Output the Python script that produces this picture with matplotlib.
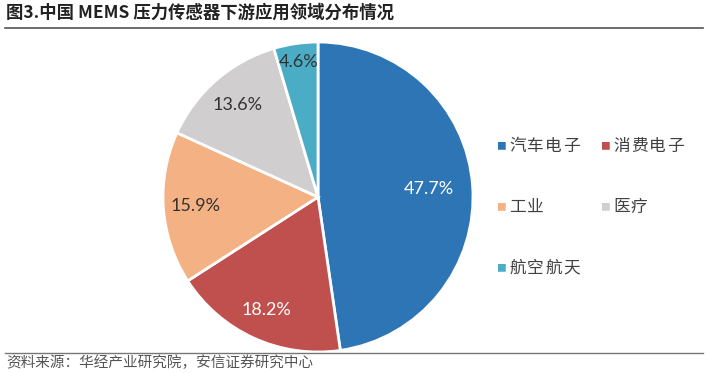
import matplotlib.pyplot as plt
import numpy as np
from matplotlib.lines import Line2D

plt.rcParams['font.family'] = ['Noto Sans CJK SC', 'DejaVu Sans']

categories = ['汽车电子', '消费电子', '工业', '医疗', '航空航天']
shares = [47.7, 18.2, 15.9, 13.6, 4.6]
colors = ['#2E75B6', '#C0504D', '#F4B183', '#D0CECE', '#4BACC6']
label_colors = ['white', 'white', '#333333', '#333333', '#333333']
label_radius = [0.72, 0.80, 0.79, 0.79, 0.88]

W, H = 708, 373
fig = plt.figure(figsize=(W / 100, H / 100), dpi=100)

# 饼图 (中心约 (318,197)，半径约 155px)
cx, cy, r = 318, 197, 155
ax = fig.add_axes([(cx - r) / W, (H - cy - r) / H, 2 * r / W, 2 * r / H])
wedges, texts = ax.pie(
    shares, colors=colors, startangle=90, counterclock=False, radius=1,
    wedgeprops=dict(edgecolor='white', linewidth=2))
ax.set_xlim(-1, 1)
ax.set_ylim(-1, 1)
ax.set_aspect('equal')
ax.axis('off')

# 百分比标签
for w, v, c, rr in zip(wedges, shares, label_colors, label_radius):
    ang = np.deg2rad((w.theta1 + w.theta2) / 2)
    ax.text(rr * np.cos(ang), rr * np.sin(ang), f'{v:.1f}%', color=c,
            fontsize=13, ha='center', va='center', family=['Lato', 'DejaVu Sans'])

# 图例 (原图字距较宽)
pos = [(496, 146), (600, 146), (496, 207), (600, 207), (496, 268)]
for (x, y), lab, c in zip(pos, categories, colors):
    fig.text(x / W, 1 - y / H, '■', color=c, fontsize=7, va='center', ha='left')
    for k, ch in enumerate(lab):
        fig.text((x + 13 + 18 * k) / W, 1 - y / H, ch, color='#404040', fontsize=12,
                 va='center', ha='left')

# 标题和线
fig.text(6 / W, 1 - 13 / H, '图3.中国 MEMS 压力传感器下游应用领域分布情况',
         fontsize=12.5, fontweight='bold', color='#222222', va='center', ha='left')
fig.add_artist(Line2D([5 / W, 703 / W], [1 - 28 / H, 1 - 28 / H],
                      color='#555555', linewidth=1.2))
fig.add_artist(Line2D([5 / W, 703 / W], [1 - 353 / H, 1 - 353 / H],
                      color='#777777', linewidth=1.0))
fig.text(6 / W, 1 - 363 / H, '资料来源：华经产业研究院，安信证券研究中心',
         fontsize=10.5, style='italic', color='#555555', va='center', ha='left')

plt.savefig('out.png', dpi=100)
